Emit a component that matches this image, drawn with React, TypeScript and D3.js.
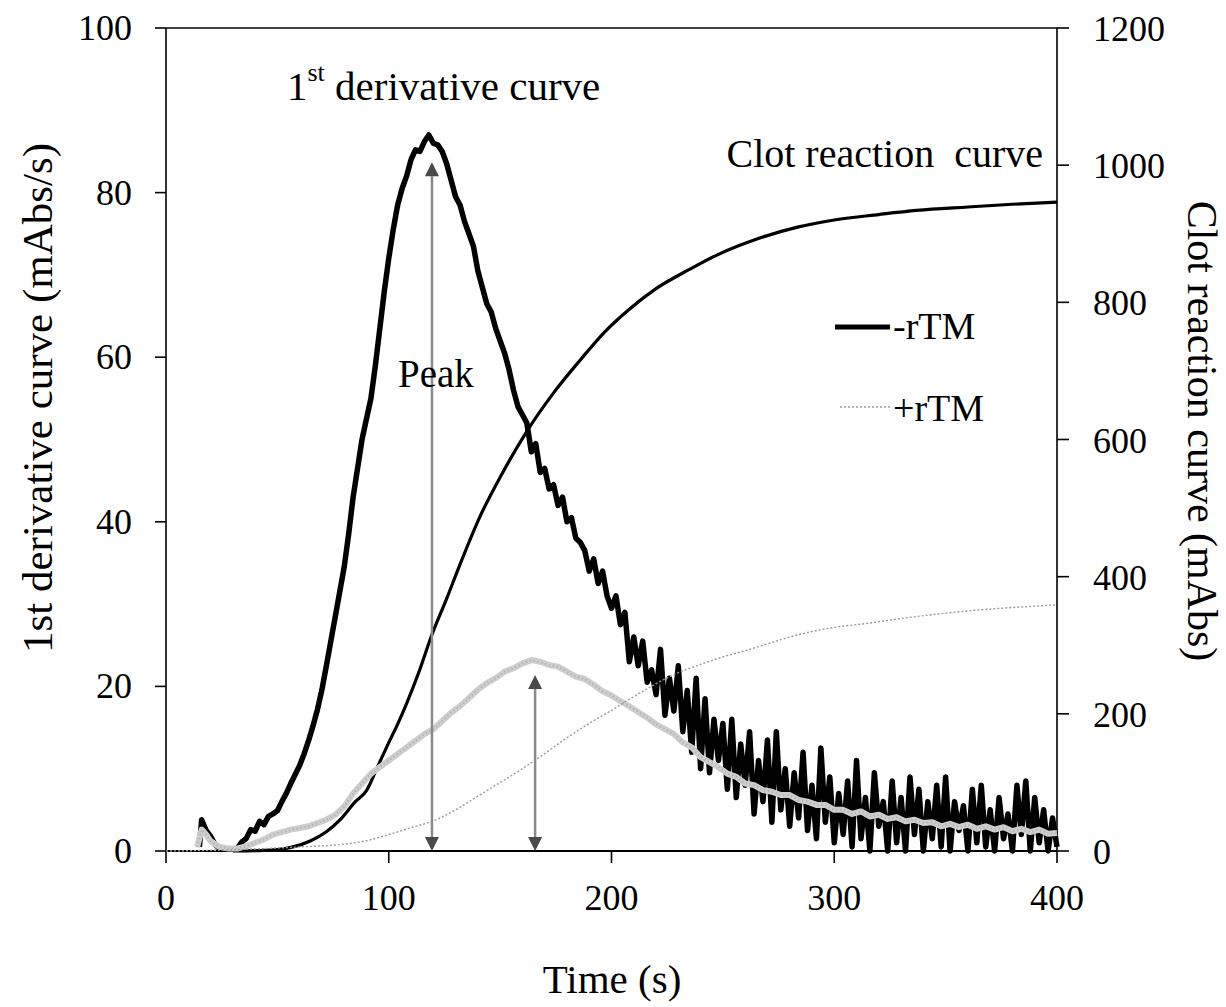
import React from "react";
import * as d3 from "d3";

// ---- Data ----
// -rTM 1st derivative (mAbs/s), time in s
const derivMinusT: number[] = [
  15, 16, 18, 20, 22, 24, 26, 28, 30, 32, 34, 36, 38, 40, 42, 44, 46, 48, 50, 52, 54,
  56, 58, 60, 62, 64, 66, 68, 70, 72, 74, 76, 78, 80, 82, 84, 86, 88, 90, 92, 94,
  96, 98, 100, 102, 104, 106, 108, 110, 112, 114, 116, 118, 120, 122, 124, 126, 128, 130, 132, 134,
  136, 138, 140, 142, 144, 146, 148, 150, 152, 154, 156, 158, 160, 162, 164, 166, 168, 170, 172, 174,
  176, 178, 180, 182, 184, 186, 188, 190, 192, 194, 196, 198, 200, 202, 204, 206, 208, 210, 212, 214,
  216, 218, 220, 222, 224, 226, 228, 230, 232, 234, 236, 238, 240, 242, 244, 246, 248, 250, 252, 254,
  256, 258, 260, 262, 264, 266, 268, 270, 272, 274, 276, 278, 280, 282, 284, 286, 288, 290, 292, 294,
  296, 298, 300, 302, 304, 306, 308, 310, 312, 314, 316, 318, 320, 322, 324, 326, 328, 330, 332, 334,
  336, 338, 340, 342, 344, 346, 348, 350, 352, 354, 356, 358, 360, 362, 364, 366, 368, 370, 372, 374,
  376, 378, 380, 382, 384, 386, 388, 390, 392, 394, 396, 398, 400,
];
const derivMinusV: number[] = [
  0.5, 3.8, 2.5, 1.8, 0.8, 0.3, 0.2, 0.2, 0.2, 0.3, 1.1, 1.5, 2.6, 2.4, 3.6, 3.2, 4.2, 4.5, 4.9, 6.0, 7.0,
  8.2, 9.3, 10.4, 11.8, 13.4, 15.2, 17.2, 19.6, 22.5, 25.5, 28.5, 31.5, 34.5, 38.5, 43.0, 46.5, 50.0, 52.5, 55.0, 59.0,
  63.5, 68.0, 72.0, 75.5, 78.5, 80.5, 82.0, 84.0, 85.2, 85.0, 86.2, 87.0, 86.0, 85.8, 85.0, 83.5, 81.5, 79.5, 78.5, 76.5,
  75.0, 73.5, 70.5, 68.5, 66.5, 65.5, 63.5, 62.0, 60.5, 58.5, 56.0, 54.0, 53.0, 52.0, 48.5, 49.5, 46.0, 46.5, 44.0, 44.5,
  42.0, 43.0, 40.0, 40.5, 38.0, 37.5, 36.5, 34.0, 35.5, 32.5, 34.0, 31.0, 29.5, 31.0, 27.5, 29.0, 23.0, 26.0, 22.5, 25.5,
  20.5, 22.0, 19.0, 24.5, 16.5, 21.0, 17.0, 22.5, 14.5, 19.5, 12.0, 21.0, 10.0, 18.5, 9.5, 16.0, 11.0, 15.5, 7.5, 16.0,
  6.5, 13.0, 8.0, 14.5, 4.5, 11.0, 6.0, 13.5, 3.5, 14.5, 5.0, 10.0, 3.0, 9.5, 4.0, 12.0, 2.5, 8.0, 1.5, 12.5,
  3.5, 9.0, 1.0, 7.0, 2.0, 8.5, 0.5, 11.0, 1.5, 6.5, 0.0, 9.5, 3.0, 6.0, 0.0, 8.5, 1.0, 6.5, 0.0, 9.0,
  2.0, 7.5, 0.0, 6.0, 1.5, 8.0, 0.5, 9.0, 0.0, 6.0, 2.5, 5.5, 0.0, 7.5, 1.0, 8.0, 0.5, 5.0, 0.0, 6.5,
  1.5, 4.5, 0.0, 8.0, 2.0, 8.5, 0.0, 6.5, 1.0, 5.0, 0.0, 4.0, 0.5,
];

// +rTM 1st derivative (mAbs/s)
const derivPlusT: number[] = [
  14, 16, 18, 20, 24, 28, 32, 36, 40, 44, 48, 52, 56, 60, 64, 68, 72, 76, 80, 84,
  88, 92, 96, 100, 104, 108, 112, 116, 120, 124, 128, 132, 136, 140, 144, 148, 152, 156, 160, 164,
  168, 172, 176, 180, 184, 188, 192, 196, 200, 204, 208, 212, 216, 220, 224, 228, 232, 236, 240, 244,
  248, 252, 256, 260, 264, 268, 272, 276, 280, 284, 288, 292, 296, 300, 304, 308, 312, 316, 320, 324,
  328, 332, 336, 340, 344, 348, 352, 356, 360, 364, 368, 372, 376, 380, 384, 388, 392, 396, 400,
];
const derivPlusV: number[] = [
  0.5, 2.6, 2.0, 1.2, 0.5, 0.3, 0.3, 0.6, 1.0, 1.4, 2.0, 2.3, 2.6, 2.8, 3.0, 3.4, 3.8, 4.4, 5.4, 7.0,
  8.2, 9.4, 10.2, 11.0, 11.8, 12.6, 13.4, 14.2, 14.8, 15.8, 16.8, 17.6, 18.6, 19.6, 20.4, 21.0, 21.8, 22.2, 22.8, 23.2,
  23.0, 22.6, 22.4, 21.8, 21.2, 20.9, 20.2, 19.4, 18.9, 18.2, 17.6, 16.9, 16.2, 15.4, 14.8, 14.2, 13.2, 12.6, 11.4, 10.8,
  10.2, 9.4, 9.0, 8.2, 8.0, 7.4, 7.2, 6.8, 6.8, 6.2, 6.0, 5.6, 5.6, 5.0, 5.0, 4.5, 4.8, 4.2, 4.4, 3.9,
  4.1, 3.6, 3.8, 3.4, 3.5, 3.0, 3.3, 2.9, 3.2, 2.7, 3.0, 2.6, 2.9, 2.4, 2.7, 2.3, 2.6, 2.1, 2.2,
];

// -rTM clot reaction curve (mAbs)
const clotMinusT: number[] = [
  30, 40, 50, 57, 65, 72, 78, 85, 90, 95, 100, 104, 108, 114, 119, 126, 132, 141, 150, 162,
  174, 186, 197, 208, 220, 235, 248, 265, 284, 300, 320, 337, 360, 380, 400,
];
const clotMinusV: number[] = [
  0, 0.5, 2, 6, 15, 28, 45, 72, 88, 123, 158, 185, 215, 265, 312, 368, 418, 488, 545, 612,
  668, 716, 757, 790, 820, 848, 870, 892, 910, 920, 928, 934, 939, 943, 946,
];

// +rTM clot reaction curve (mAbs)
const clotPlusT: number[] = [
  0, 20, 40, 60, 80, 90, 100, 110, 120, 130, 140, 150, 160, 170, 180, 190, 200, 210, 220, 230,
  240, 250, 260, 270, 280, 290, 300, 315, 330, 345, 360, 375, 390, 400,
];
const clotPlusV: number[] = [
  0, 1, 3, 6, 10, 15, 24, 34, 44, 60, 80, 100, 120, 142, 165, 186, 205, 225, 244, 260,
  272, 283, 292, 302, 312, 320, 326, 332, 339, 345, 350, 354, 357, 359,
];

// Peak arrows: time and arrow top (mAbs/s)
const arrowTimes: number[] = [119.4, 165.7];
const arrowTops: number[] = [83.7, 21.4];

// Ticks
const xTicks: number[] = [0, 100, 200, 300, 400];
const yLeftTicks: number[] = [0, 20, 40, 60, 80, 100];
const yRightTicks: number[] = [0, 200, 400, 600, 800, 1000, 1200];

const FONT = "'Liberation Serif', 'Times New Roman', serif";

export default function App() {
  const W = 1226;
  const H = 1007;
  const x = d3.scaleLinear().domain([0, 400]).range([166, 1057]);
  const yL = d3.scaleLinear().domain([0, 100]).range([851, 28]);
  const yR = d3.scaleLinear().domain([0, 1200]).range([851, 28]);

  const lineL = d3
    .line<[number, number]>()
    .x((d) => x(d[0]))
    .y((d) => yL(d[1]))
    .curve(d3.curveLinear);
  const smoothR = d3
    .line<[number, number]>()
    .x((d) => x(d[0]))
    .y((d) => yR(d[1]))
    .curve(d3.curveMonotoneX);

  const zip = (a: number[], b: number[]) =>
    a.map((t, i) => [t, b[i]] as [number, number]);

  const dMinus = zip(derivMinusT, derivMinusV);
  const dPlus = zip(derivPlusT, derivPlusV);
  const cMinus = zip(clotMinusT, clotMinusV);
  const cPlus = zip(clotPlusT, clotPlusV);

  const x0 = x(0);
  const x1 = x(400);
  const yb = yL(0);
  const yt = yL(100);

  return (
    <svg
      width={W}
      height={H}
      style={{ position: "absolute", left: 0, top: 0, background: "#fff" }}
      fontFamily={FONT}
    >
      <rect x={0} y={0} width={W} height={H} fill="#fff" />

      {/* frame */}
      <line x1={x0} y1={yt} x2={x1} y2={yt} stroke="#000" strokeWidth={1.6} />
      <line x1={x0} y1={yb} x2={x1} y2={yb} stroke="#000" strokeWidth={1.8} />
      <line x1={x0} y1={yt} x2={x0} y2={yb} stroke="#000" strokeWidth={1.6} />
      <line x1={x1} y1={yt} x2={x1} y2={yb} stroke="#000" strokeWidth={1.6} />

      {/* left axis ticks */}
      {yLeftTicks.map((v) => (
        <g key={"l" + v}>
          <line x1={x0 - 11} x2={x0} y1={yL(v)} y2={yL(v)} stroke="#000" strokeWidth={1.6} />
          <text x={132} y={yL(v) + 12} fontSize={36} textAnchor="end">
            {v}
          </text>
        </g>
      ))}
      {/* right axis ticks */}
      {yRightTicks.map((v) => (
        <g key={"r" + v}>
          <line x1={x1} x2={x1 + 12} y1={yR(v)} y2={yR(v)} stroke="#000" strokeWidth={1.6} />
          <text x={1093} y={yR(v) + 13} fontSize={36} textAnchor="start">
            {v}
          </text>
        </g>
      ))}
      {/* x axis ticks */}
      {xTicks.map((v) => (
        <g key={"x" + v}>
          <line x1={x(v)} x2={x(v)} y1={yb} y2={yb + 12} stroke="#000" strokeWidth={1.6} />
          <text x={x(v)} y={910} fontSize={36} textAnchor="middle">
            {v}
          </text>
        </g>
      ))}

      {/* -rTM derivative */}
      <path d={lineL(dMinus) || ""} fill="none" stroke="#000" strokeWidth={5.5} strokeLinejoin="round" />
      {/* -rTM clot curve */}
      <path d={smoothR(cMinus) || ""} fill="none" stroke="#000" strokeWidth={3.2} />
      {/* +rTM derivative */}
      <path d={lineL(dPlus) || ""} fill="none" stroke="#cdcdcd" strokeWidth={6} strokeLinejoin="round" />
      <path
        d={lineL(dPlus) || ""}
        fill="none"
        stroke="#ababab"
        strokeWidth={2}
        strokeDasharray="1 3"
      />
      {/* +rTM clot curve */}
      <path
        d={smoothR(cPlus) || ""}
        fill="none"
        stroke="#9a9a9a"
        strokeWidth={1.4}
        strokeDasharray="2 2"
      />

      {/* arrows */}
      {arrowTimes.map((t, i) => {
        const ax = x(t);
        const top = yL(arrowTops[i]);
        const bot = yL(0);
        const hw = 7;
        const hh = 14;
        return (
          <g key={"a" + i}>
            <line x1={ax} x2={ax} y1={top + hh} y2={bot - hh} stroke="#8a8a8a" strokeWidth={2.5} />
            <path d={`M${ax},${top} L${ax - hw},${top + hh} L${ax + hw},${top + hh} Z`} fill="#4a4a4a" />
            <path d={`M${ax},${bot} L${ax - hw},${bot - hh} L${ax + hw},${bot - hh} Z`} fill="#4a4a4a" />
          </g>
        );
      })}

      {/* annotations */}
      <text x={287} y={100} fontSize={41}>
        1
        <tspan fontSize={26} dy={-19}>
          st
        </tspan>
        <tspan dy={19}> derivative curve</tspan>
      </text>
      <text x={1043} y={167} fontSize={40} textAnchor="end" style={{ whiteSpace: "pre" }}>
        {"Clot reaction  curve"}
      </text>
      <text x={398} y={387} fontSize={39}>
        Peak
      </text>

      {/* legend */}
      <line x1={835} x2={890} y1={327} y2={327} stroke="#000" strokeWidth={5} />
      <text x={893} y={339} fontSize={38}>
        -rTM
      </text>
      <line x1={840} x2={890} y1={407} y2={407} stroke="#9a9a9a" strokeWidth={1.4} strokeDasharray="2 2" />
      <text x={893} y={421} fontSize={38}>
        +rTM
      </text>

      {/* axis titles */}
      <text x={612} y={993} fontSize={41} textAnchor="middle">
        Time (s)
      </text>
      <text
        transform={`translate(52,398) rotate(-90)`}
        fontSize={43}
        textAnchor="middle"
      >
        1st derivative curve (mAbs/s)
      </text>
      <text
        transform={`translate(1188,431) rotate(90)`}
        fontSize={42}
        textAnchor="middle"
      >
        Clot reaction curve (mAbs)
      </text>
    </svg>
  );
}
